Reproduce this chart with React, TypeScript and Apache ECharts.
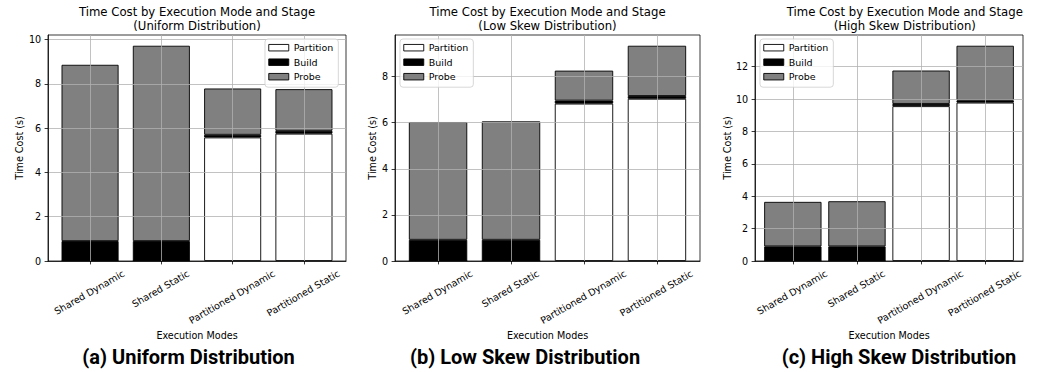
import React, { useEffect, useRef } from 'react';
import * as echarts from 'echarts';

// ---------- data ----------
const categories = ['Shared Dynamic', 'Shared Static', 'Partitioned Dynamic', 'Partitioned Static'];
const stages = ['Partition', 'Build', 'Probe'];

const uniformPartition = [0, 0, 5.58, 5.75];
const uniformBuild = [0.9, 0.9, 0.12, 0.13];
const uniformProbe = [7.96, 8.82, 2.09, 1.88];

const lowSkewPartition = [0, 0, 6.83, 7.04];
const lowSkewBuild = [0.92, 0.92, 0.13, 0.12];
const lowSkewProbe = [5.11, 5.14, 1.3, 2.18];

const highSkewPartition = [0, 0, 9.56, 9.78];
const highSkewBuild = [0.9, 0.9, 0.14, 0.14];
const highSkewProbe = [2.75, 2.79, 2.06, 3.37];

const uniformTicks = [0, 2, 4, 6, 8, 10];
const lowSkewTicks = [0, 2, 4, 6, 8];
const highSkewTicks = [0, 2, 4, 6, 8, 10, 12];

const panelTitles = [
  'Time Cost by Execution Mode and Stage\n(Uniform Distribution)',
  'Time Cost by Execution Mode and Stage\n(Low Skew Distribution)',
  'Time Cost by Execution Mode and Stage\n(High Skew Distribution)',
];
const captions = ['(a) Uniform Distribution', '(b) Low Skew Distribution', '(c) High Skew Distribution'];
const xAxisTitle = 'Execution Modes';
const yAxisTitle = 'Time Cost (s)';

const panelData = [
  { partition: uniformPartition, build: uniformBuild, probe: uniformProbe, ticks: uniformTicks },
  { partition: lowSkewPartition, build: lowSkewBuild, probe: lowSkewProbe, ticks: lowSkewTicks },
  { partition: highSkewPartition, build: highSkewBuild, probe: highSkewProbe, ticks: highSkewTicks },
];

// ---------- layout / style ----------
const layout = [
  { left: 48, right: 346, legendLeft: 265, yNameGap: 24, captionX: 188.5 },
  { left: 395, right: 700, legendLeft: 400, yNameGap: 18, captionX: 525 },
  { left: 755, right: 1054.6, legendLeft: 760, yNameGap: 23, captionX: 899 },
];
const TOP = 35;
const BOTTOM = 261;
const FONT = '"DejaVu Sans", sans-serif';
const FS = 9.6;
const LABEL_LH = 11;
const GRID_COLOR = '#b0b0b0';
const AXIS_STYLE = { color: '#000', width: 0.78 };
const stageColors = ['#ffffff', '#000000', '#808080'];
// screen-space nudge of the rotated tick labels
const LABEL_NUDGE_X = -3.5;
const LABEL_NUDGE_Y = -4;

const BAR_REL_WIDTH = 0.8;
const xMin = -BAR_REL_WIDTH / 2 - 0.05 * (categories.length - 1 + BAR_REL_WIDTH);
const xMax = categories.length - 1 + BAR_REL_WIDTH / 2 + 0.05 * (categories.length - 1 + BAR_REL_WIDTH);

function buildOption() {
  const canvas = document.createElement('canvas');
  const ctx = canvas.getContext('2d');
  if (ctx) ctx.font = `${FS}px "DejaVu Sans"`;
  const sin = Math.sin(Math.PI / 6);
  const cos = Math.cos(Math.PI / 6);
  const tan = Math.tan(Math.PI / 6);
  const rich: Record<string, any> = {};
  categories.forEach((c, k) => {
    const L = ctx ? ctx.measureText(c).width : c.length * 5.5;
    const H = L * sin + LABEL_LH * cos;
    const oy0 = H / 2 / (sin * tan + cos);
    const ox0 = -oy0 * tan;
    const ox = ox0 + LABEL_NUDGE_X * cos - LABEL_NUDGE_Y * sin;
    const oy = oy0 + LABEL_NUDGE_X * sin + LABEL_NUDGE_Y * cos;
    rich['c' + k] = {
      fontFamily: FONT,
      fontSize: FS,
      lineHeight: LABEL_LH,
      color: '#000',
      padding: [Math.max(0, 2 * oy), Math.max(0, -2 * ox), Math.max(0, -2 * oy), Math.max(0, 2 * ox)],
    };
  });

  const grids: any[] = [];
  const xAxes: any[] = [];
  const yAxes: any[] = [];
  const series: any[] = [];
  const legends: any[] = [];
  const graphics: any[] = [];
  const catIdx = categories.map((_, k) => k);
  const evenIdx = catIdx.filter((k) => k % 2 === 0);
  const oddIdx = catIdx.filter((k) => k % 2 === 1);

  const labelBase = {
    showMinLabel: true,
    showMaxLabel: true,
    hideOverlap: false,
    rotate: 30,
    align: 'center',
    verticalAlign: 'top',
    margin: 6,
    formatter: (v: number) => `{c${Math.round(v)}|${categories[Math.round(v)]}}`,
    rich,
  };

  panelData.forEach((pd, i) => {
    const lay = layout[i];
    const width = lay.right - lay.left;
    const totals = categories.map((_, k) => pd.partition[k] + pd.build[k] + pd.probe[k]);
    const yMax = Math.max(...totals) * 1.05;
    const barW = (BAR_REL_WIDTH * width) / (xMax - xMin);

    grids.push({
      left: lay.left,
      top: TOP,
      width,
      height: BOTTOM - TOP,
      show: true,
      backgroundColor: 'transparent',
      borderColor: '#000',
      borderWidth: 0.78,
    });

    xAxes.push({
      gridIndex: i,
      type: 'value',
      position: 'bottom',
      min: xMin,
      max: xMax,
      z: 6,
      axisLine: { show: true, onZero: false, lineStyle: AXIS_STYLE },
      axisTick: { show: true, length: 3.4, customValues: catIdx, lineStyle: AXIS_STYLE },
      axisLabel: { ...labelBase, customValues: evenIdx },
      splitLine: { show: true, lineStyle: { color: GRID_COLOR, width: 0.78 } },
      name: xAxisTitle,
      nameLocation: 'middle',
      nameGap: 69,
      nameMoveOverlap: false,
      nameTextStyle: { fontFamily: FONT, fontSize: FS, color: '#000' },
    });
    xAxes.push({
      gridIndex: i,
      type: 'value',
      position: 'bottom',
      min: xMin,
      max: xMax,
      z: 6,
      axisLine: { show: false, onZero: false },
      axisTick: { show: false },
      axisLabel: { ...labelBase, customValues: oddIdx },
      splitLine: { show: false },
    });
    yAxes.push({
      gridIndex: i,
      type: 'value',
      position: 'left',
      min: 0,
      max: yMax,
      interval: 2,
      z: 6,
      axisLine: { show: true, onZero: false, lineStyle: AXIS_STYLE },
      axisTick: { show: true, length: 3.4, customValues: pd.ticks, lineStyle: AXIS_STYLE },
      axisLabel: { customValues: pd.ticks, margin: 6.8, fontFamily: FONT, fontSize: FS, color: '#000' },
      splitLine: { show: true, lineStyle: { color: GRID_COLOR, width: 0.78 } },
      name: yAxisTitle,
      nameLocation: 'middle',
      nameGap: lay.yNameGap,
      nameRotate: 90,
      nameMoveOverlap: false,
      nameTextStyle: { fontFamily: FONT, fontSize: FS, color: '#000' },
    });

    const stageValues = [pd.partition, pd.build, pd.probe];
    stages.forEach((s, si) => {
      series.push({
        name: s,
        type: 'bar',
        xAxisIndex: 2 * i,
        yAxisIndex: i,
        stack: 'panel' + i,
        barWidth: barW,
        data: stageValues[si].map((v, k) => [v, k]),
        encode: { x: 1, y: 0 },
        itemStyle: { color: stageColors[si], borderColor: '#000', borderWidth: 0.9 },
        emphasis: { disabled: true },
        silent: true,
      });
    });

    legends.push({
      orient: 'vertical',
      left: lay.legendLeft,
      top: 39,
      data: stages,
      icon: 'rect',
      itemWidth: 20,
      itemHeight: 6.5,
      itemGap: 3.5,
      itemTextGap: 8.2,
      padding: [3.2, 5, 5, 3.3],
      backgroundColor: 'rgba(255,255,255,0.8)',
      borderColor: '#cccccc',
      borderWidth: 0.78,
      borderRadius: 3,
      selectedMode: false,
      z: 10,
      itemStyle: { borderColor: '#000', borderWidth: 0.9 },
      textStyle: { fontFamily: FONT, fontSize: 9.5, color: '#000', lineHeight: LABEL_LH },
    });

    graphics.push({
      type: 'text',
      x: (lay.left + lay.right) / 2,
      y: 19.3,
      style: {
        text: panelTitles[i],
        textAlign: 'center',
        textVerticalAlign: 'middle',
        fontFamily: FONT,
        fontSize: 11.7,
        lineHeight: 13.7,
        fill: '#000',
      },
    });
    graphics.push({
      type: 'text',
      x: lay.captionX,
      y: 357,
      style: {
        text: captions[i],
        textAlign: 'center',
        textVerticalAlign: 'middle',
        fontFamily: 'Roboto, sans-serif',
        fontWeight: 'bold',
        fontSize: 20,
        fill: '#000',
      },
    });
  });

  return {
    animation: false,
    backgroundColor: '#ffffff',
    textStyle: { fontFamily: FONT },
    grid: grids,
    xAxis: xAxes,
    yAxis: yAxes,
    legend: legends,
    series,
    graphic: graphics,
  };
}

export default function App() {
  const ref = useRef<HTMLDivElement>(null);
  useEffect(() => {
    if (!ref.current) return;
    const chart = echarts.init(ref.current, null, { renderer: 'svg' });
    chart.setOption(buildOption() as any);
    return () => {
      chart.dispose();
    };
  }, []);
  return (
    <div
      ref={ref}
      style={{ position: 'absolute', left: 0, top: 0, width: 1049, height: 372, background: '#fff' }}
    />
  );
}
